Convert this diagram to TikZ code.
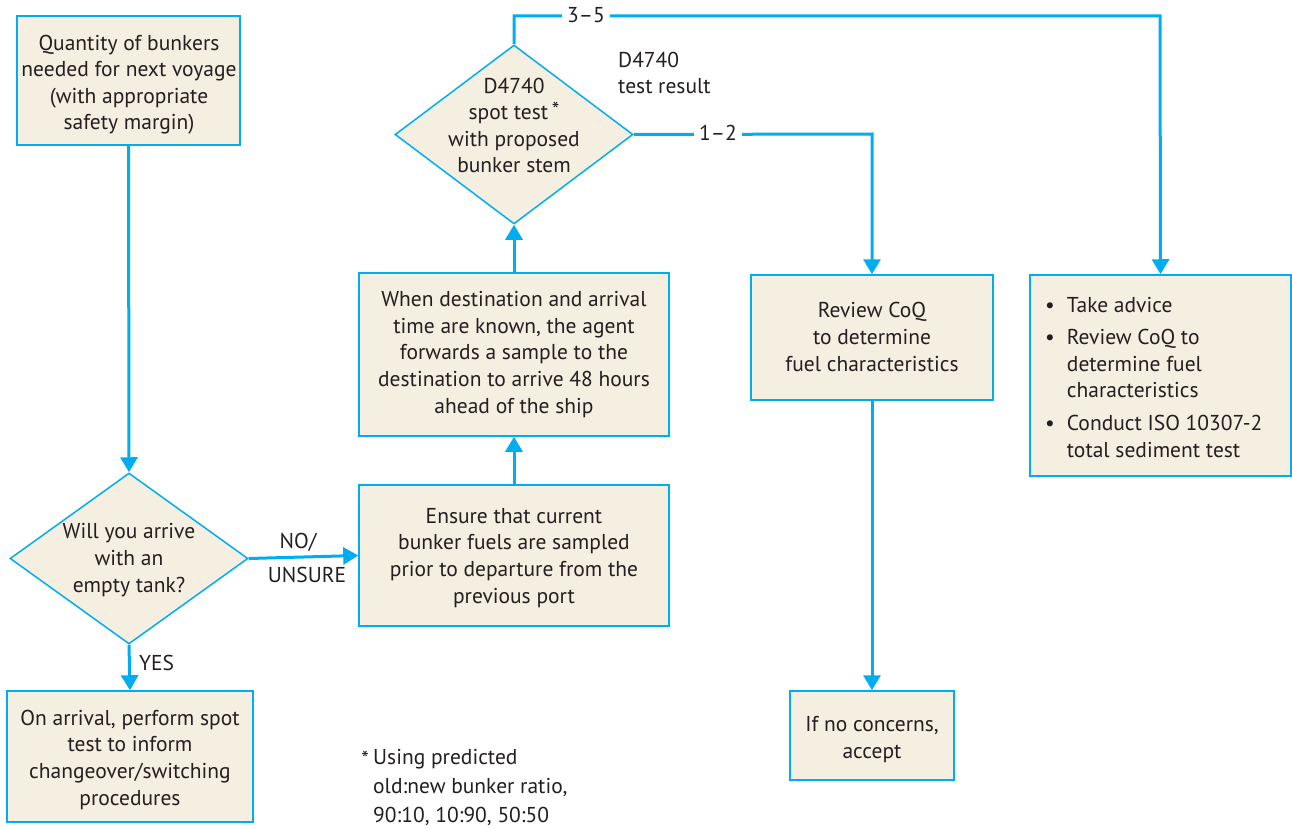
\documentclass[tikz,border=0pt]{standalone}
\usepackage{fontspec}
\setmainfont{PT Sans}
\usetikzlibrary{shapes.geometric,arrows.meta}
\definecolor{cy}{HTML}{00AEEF}
\definecolor{bg}{HTML}{F4EFE0}
\definecolor{ink}{HTML}{231F20}
\begin{document}
\begin{tikzpicture}[x=1pt,y=-1pt,
  every node/.style={text=ink,font=\fontsize{21.5}{26.6}\selectfont},
  box/.style={draw=cy,fill=bg,line width=1.5pt,align=center,inner sep=0pt},
  dia/.style={diamond,draw=cy,fill=bg,line width=1.5pt,inner sep=0pt},
  conn/.style={draw=cy,line width=3pt,-{Triangle[width=17pt,length=15pt]}},
  lbl/.style={fill=white,inner sep=5pt}]
\useasboundingbox (0,0) rectangle (1292,829);
% boxes
\node[box,minimum width=223pt,minimum height=129pt] (b1) at (128.5,80.5) {};
\node[align=center,inner sep=0pt,anchor=base] (b1t) at (129,130)
  {Quantity of bunkers\\needed for next voyage\\(with appropriate\\safety margin)};
\node[dia,minimum width=238pt,minimum height=171pt] (d1) at (129,558.5) {};
\node[align=center,inner sep=0pt,anchor=base] (d1t) at (129,592) {Will you arrive\\with an\\empty tank?};
\node[box,minimum width=246pt,minimum height=131pt] (b2) at (130,756.5) {};
\node[align=center,inner sep=0pt,anchor=base] (b2t) at (130,805)
  {On arrival, perform spot\\test to inform\\changeover/switching\\procedures};
\node[box,minimum width=310pt,minimum height=141pt] (b3) at (514,555.5) {};
\node[align=center,inner sep=0pt,anchor=base] (b3t) at (514,603)
  {Ensure that current\\bunker fuels are sampled\\prior to departure from the\\previous port};
\node[box,minimum width=310pt,minimum height=163pt] (b4) at (514,354.5) {};
\node[align=center,inner sep=0pt,anchor=base] (b4t) at (514,413)
  {When destination and arrival\\time are known, the agent\\forwards a sample to the\\destination to arrive 48 hours\\ahead of the ship};
\node[dia,minimum width=238pt,minimum height=179pt] (d2) at (514,134.5) {};
\node[align=center,inner sep=0pt,anchor=base] (d2t) at (514,173) {D4740\\spot test\,\raisebox{2pt}{*}\\with proposed\\bunker stem};
\node[box,minimum width=242pt,minimum height=125pt] (b5) at (872,337.5) {};
\node[align=center,inner sep=0pt,anchor=base] (b5t) at (872,371)
  {Review CoQ\\to determine\\fuel characteristics};
\node[box,minimum width=164pt,minimum height=89pt] (b6) at (872,735.5) {};
\node[align=center,inner sep=0pt,anchor=base] (b6t) at (872,758) {If no concerns,\\accept};
\node[box,minimum width=261pt,minimum height=201pt] (b7) at (1160.5,375.5) {};
\node[anchor=base west,inner sep=0pt,align=left] (b7t) at (1045,312)
  {\begin{tabular}[t]{@{}l@{\hspace{12pt}}l@{}}
   \textbullet & Take advice\\[6pt]
   \textbullet & Review CoQ to\\
               & determine fuel\\
               & characteristics\\[6pt]
   \textbullet & Conduct ISO 10307-2\\
               & total sediment test
   \end{tabular}};
% free labels
\node[anchor=base west,align=left,inner sep=0pt] (res) at (618,94) {D4740\\test result};
\node[anchor=base west,align=left,inner sep=0pt,font=\fontsize{21.5}{29}\selectfont] (foot) at (373,822)
  {Using predicted\\old:new bunker ratio,\\90:10, 10:90, 50:50};
\node[anchor=base east,inner sep=0pt] (star) at (369,766) {*};
% connectors
\draw[conn] (b1.south) -- (d1.north);
\draw[conn] (d1.south) -- (b2.north);
\draw[conn] (d1.east) -- (b3.west);
\draw[conn] (b3.north) -- (b4.south);
\draw[conn] (b4.north) -- (d2.south);
\draw[conn] (b5.south) -- (b6.north);
\coordinate (tr) at (1160,16);
\coordinate (mr) at (872,134);
\draw[conn] (d2.north) |- (tr) -- (b7.north);
\draw[conn] (d2.east) -- (mr) -- (b5.north);
\node[lbl] (l35) at (586,15) {3–5};
\node[lbl] (l12) at (718,133) {1–2};
\node[anchor=base,inner sep=0pt] (lno) at (298,548) {NO/};
\node[anchor=base,inner sep=0pt] (lun) at (307,582) {UNSURE};
\node[anchor=base west,inner sep=0pt] (lyes) at (139,670) {YES};
\end{tikzpicture}
\end{document}
